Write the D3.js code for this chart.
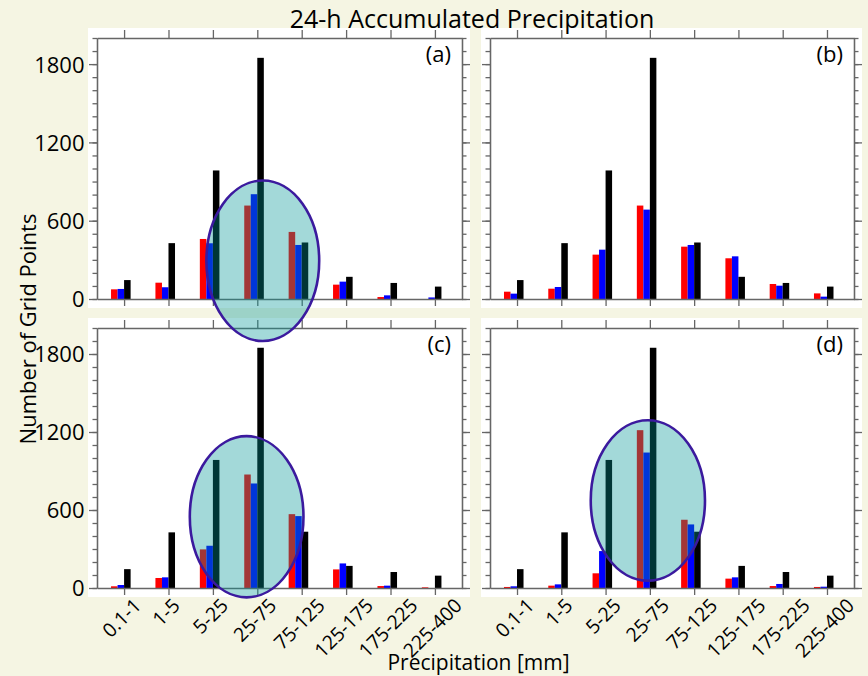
<!DOCTYPE html>
<html><head><meta charset="utf-8">
<script src="https://cdn.jsdelivr.net/npm/d3@7"></script>
<style>html,body{margin:0;padding:0;background:#f5f5e3;} svg{display:block;font-family:"Open Sans",sans-serif;}</style>
</head><body><svg id="chart" width="868" height="676"></svg>
<script>
// ---------------- data ----------------
const categories = ['0.1-1','1-5','5-25','25-75','75-125','125-175','175-225','225-400'];
const observed = [145, 428, 985, 1848, 433, 170, 123, 95];
const redA  = [74, 125, 460, 716, 514, 110, 15, 0];
const blueA = [77, 90, 427, 803, 414, 133, 28, 12];
const redB  = [56, 79, 340, 716, 401, 312, 115, 43];
const blueB = [41, 92, 378, 685, 414, 327, 102, 18];
const redC  = [13, 77, 297, 873, 568, 143, 15, 5];
const blueC = [23, 82, 325, 804, 553, 189, 18, 0];
const redD  = [8, 18, 113, 1214, 525, 72, 15, 8];
const blueD = [13, 28, 284, 1042, 489, 82, 31, 10];
const majorTicks = [0, 600, 1200, 1800];
const minorTicks = d3.range(0, 2001, 100);
const yMax = 2000;
const panelLabels = ['(a)', '(b)', '(c)', '(d)'];
const titleText = '24-h Accumulated Precipitation';
const yTitle = 'Number of Grid Points';
const xTitle = 'Precipitation [mm]';
// annotation ellipses (panel index, centre category, shift in steps, centre value, radii)
const ellipsePanel = [0, 2, 3];
const ellipseCategory = '25-75';
const ellipseShift = [0.124, -0.24, -0.045];
const ellipseValue = [293, 548, 673];
const ellipseRyValue = [615, 620, 617];
const ellipseRxSteps = [1.27, 1.28, 1.29];

// ---------------- layout ----------------
const W = 868, H = 676;
const layout = [
  {left: 97,  right: 462, top: 38,  bottom: 299},
  {left: 490, right: 854, top: 38,  bottom: 299},
  {left: 97,  right: 462, top: 328, bottom: 588},
  {left: 490, right: 854, top: 328, bottom: 588}
];
const redSeries = [redA, redB, redC, redD];
const blueSeries = [blueA, blueB, blueC, blueD];
const frameColor = '#666666';
const bg = '#f5f5e3';

const svg = d3.select('#chart');
svg.append('rect').attr('width', W).attr('height', H).attr('fill', bg);

const scales = layout.map(p => ({
  x: d3.scalePoint(categories, [p.left, p.right]).padding(0.61),
  y: d3.scaleLinear([0, yMax], [p.bottom, p.top])
}));

function styleAxis(sel) {
  sel.selectAll('path.domain').attr('stroke', frameColor).attr('stroke-width', 1.3);
  sel.selectAll('.tick line').attr('stroke', frameColor).attr('stroke-width', 1.3);
  sel.attr('font-family', null).attr('font-size', null);
}

layout.forEach((p, i) => {
  const g = svg.append('g');
  g.append('rect')
    .attr('x', p.left - 9).attr('y', p.top - 10)
    .attr('width', p.right - p.left + 17).attr('height', p.bottom - p.top + 19)
    .attr('fill', '#ffffff');
  const {x, y} = scales[i];
  const bw = x.step() * 0.147;
  const series = [
    {vals: redSeries[i], color: '#ff0000', off: -2},
    {vals: blueSeries[i], color: '#0000ff', off: -1},
    {vals: observed, color: '#000000', off: 0}
  ];
  series.forEach(s => {
    g.append('g').selectAll('rect').data(categories).join('rect')
      .attr('x', c => x(c) + s.off * bw)
      .attr('width', bw)
      .attr('y', (c, j) => y(s.vals[j]))
      .attr('height', (c, j) => y(0) - y(s.vals[j]))
      .attr('fill', s.color);
  });

  const ax = g.append('g');
  // minor ticks
  ax.append('g').attr('transform', `translate(${p.left},0)`)
    .call(d3.axisLeft(y).tickValues(minorTicks).tickSize(4.5).tickSizeOuter(0).tickFormat(''))
    .call(styleAxis);
  ax.append('g').attr('transform', `translate(${p.right},0)`)
    .call(d3.axisRight(y).tickValues(minorTicks).tickSize(4.5).tickSizeOuter(0).tickFormat(''))
    .call(styleAxis);
  // major ticks
  const left = ax.append('g').attr('transform', `translate(${p.left},0)`)
    .call(d3.axisLeft(y).tickValues(majorTicks).tickSize(8).tickSizeOuter(0)
      .tickPadding(4.5).tickFormat(i % 2 === 0 ? d3.format('d') : () => ''))
    .call(styleAxis);
  left.selectAll('text').attr('font-size', 22).attr('fill', '#000').attr('dy', '0.36em');
  ax.append('g').attr('transform', `translate(${p.right},0)`)
    .call(d3.axisRight(y).tickValues(majorTicks).tickSize(8).tickSizeOuter(0).tickFormat(''))
    .call(styleAxis);
  // category ticks
  ax.append('g').attr('transform', `translate(0,${p.top})`)
    .call(d3.axisTop(x).tickSize(8).tickSizeOuter(0).tickFormat(''))
    .call(styleAxis);
  const bottom = ax.append('g').attr('transform', `translate(0,${p.bottom})`)
    .call(d3.axisBottom(x).tickSize(7).tickSizeOuter(0).tickFormat(i >= 2 ? (d => d) : () => ''))
    .call(styleAxis);
  if (i >= 2) {
    const fs = 19.5;
    bottom.selectAll('.tick text').each(function() {
      const t = d3.select(this);
      t.attr('font-size', fs).attr('fill', '#000').attr('text-anchor', 'middle')
        .attr('y', null).attr('dy', '0.36em');
      const L = this.getComputedTextLength();
      const half = 0.7071 * (L + 0.72 * fs) / 2;
      t.attr('transform', `translate(-3,${9 + half}) rotate(-45)`);
    });
  }
  // panel label
  g.append('text').attr('x', p.right - 11).attr('y', p.top + 24)
    .attr('text-anchor', 'end').attr('font-size', 22).attr('fill', '#000')
    .text(panelLabels[i]);
});

// ellipse annotations on top
const over = svg.append('g');
ellipsePanel.forEach((pi, k) => {
  const {x, y} = scales[pi];
  const step = x.step();
  over.append('ellipse')
    .attr('cx', x(ellipseCategory) + ellipseShift[k] * step)
    .attr('cy', y(ellipseValue[k]))
    .attr('rx', ellipseRxSteps[k] * step)
    .attr('ry', y(0) - y(ellipseRyValue[k]))
    .attr('fill', 'rgba(0,150,150,0.36)')
    .attr('stroke', '#3b1a9e')
    .attr('stroke-width', 2.6);
});

// titles
svg.append('text').attr('x', 472).attr('y', 27.5).attr('text-anchor', 'middle')
  .attr('font-size', 25).attr('fill', '#000').text(titleText);
svg.append('text').attr('transform', 'translate(36,329) rotate(-90)').attr('text-anchor', 'middle')
  .attr('font-size', 22).attr('fill', '#000').text(yTitle);
svg.append('text').attr('x', 478.5).attr('y', 670).attr('text-anchor', 'middle')
  .attr('font-size', 21).attr('fill', '#000').text(xTitle);
</script></body></html>
